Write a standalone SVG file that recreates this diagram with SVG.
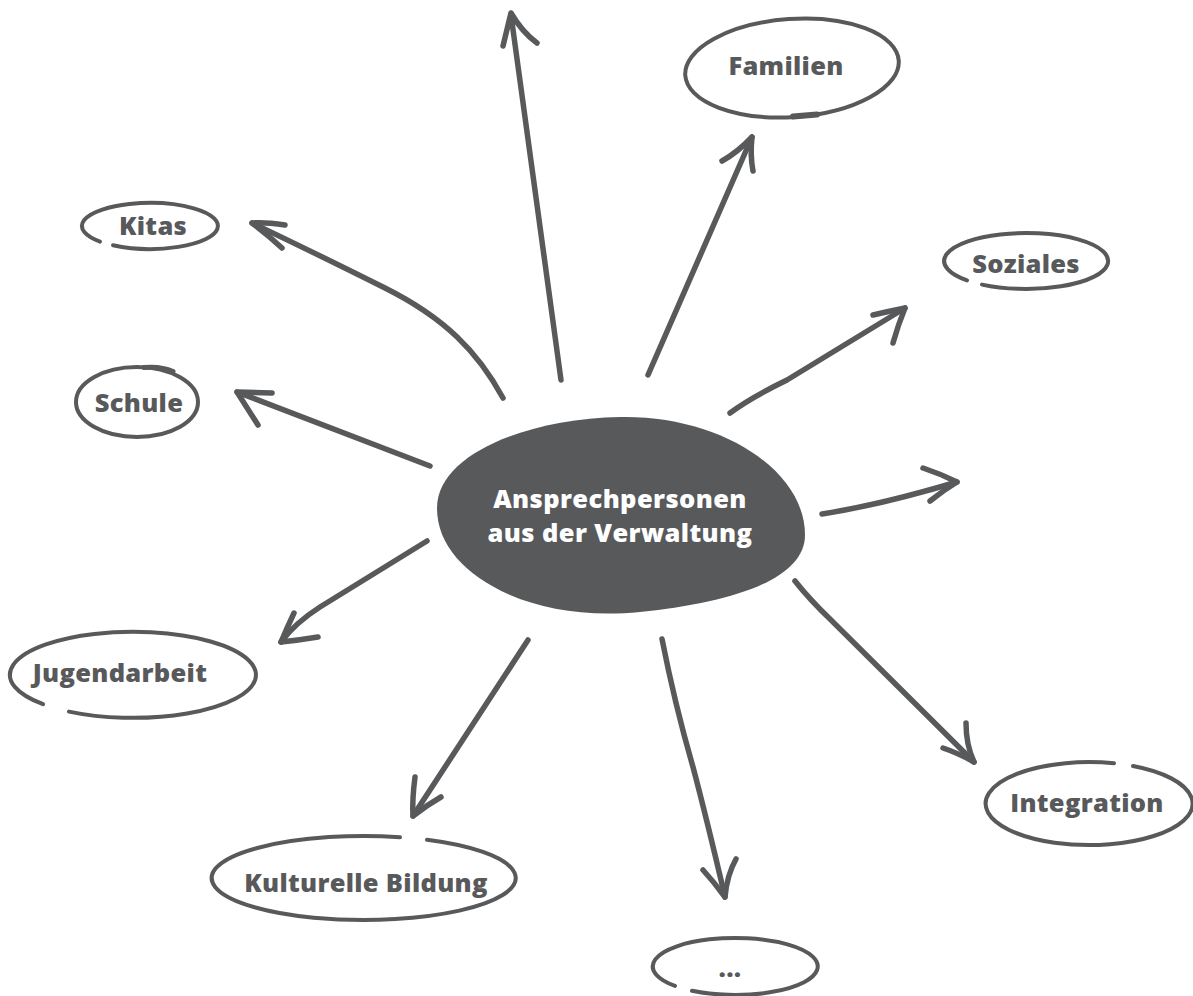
<svg xmlns="http://www.w3.org/2000/svg" width="1193" height="996" viewBox="0 0 1193 996">
<style>
.bg{fill:#ffffff}
.arr{fill:none;stroke:#58595b;stroke-width:5.5;stroke-linecap:round;stroke-linejoin:round}
.ring{fill:none;stroke:#58595b;stroke-width:4;stroke-linecap:round;stroke-linejoin:round}
.lbl{font-family:"Open Sans","Liberation Sans",sans-serif;font-weight:800;font-size:25.5px;letter-spacing:0.3px;fill:#58595b;text-anchor:middle}
.ctr{font-family:"Open Sans","Liberation Sans",sans-serif;font-weight:800;font-size:25.5px;letter-spacing:0.4px;fill:#ffffff;text-anchor:middle}
</style>
<rect class="bg" x="0" y="0" width="1193" height="996"/>
<g id="connectors">
  <g id="arrow-top"><path class="arr" d="M 561,380 L 511,15"/><path class="arr" d="M 503,46 L 511,13 Q 522,32 537,43"/></g>
  <g id="arrow-familien"><path class="arr" d="M 648,375 L 752,137"/><path class="arr" d="M 722,161 Q 738,152 752,137 Q 750,155 753,171"/></g>
  <g id="arrow-soziales"><path class="arr" d="M 730,413 Q 750,398 787,380 L 905,308"/><path class="arr" d="M 873,315 Q 890,311 905,308 Q 898,325 893,343"/></g>
  <g id="arrow-right"><path class="arr" d="M 822,514 Q 880,505 957,482"/><path class="arr" d="M 923,468 Q 941,474 957,482 Q 944,490 930,501"/></g>
  <g id="arrow-integration"><path class="arr" d="M 795,581 Q 810,600 831,620 L 974,762"/><path class="arr" d="M 966,723 Q 966,745 974,762 Q 958,753 943,748"/></g>
  <g id="arrow-dots"><path class="arr" d="M 662,639 Q 675,705 693,767 Q 707,820 725,897"/><path class="arr" d="M 703,870 Q 714,882 725,897 Q 727,875 736,859"/></g>
  <g id="arrow-kultur"><path class="arr" d="M 528,640 L 413,816"/><path class="arr" d="M 415,777 Q 412,800 413,816 Q 427,805 441,797"/></g>
  <g id="arrow-jugend"><path class="arr" d="M 427,541 L 320,607 Q 295,623 281,642"/><path class="arr" d="M 294,613 Q 287,628 281,642 Q 300,640 318,637"/></g>
  <g id="arrow-schule"><path class="arr" d="M 430,466 L 237,392"/><path class="arr" d="M 272,393 L 237,392 L 258,425"/></g>
  <g id="arrow-kitas"><path class="arr" d="M 503,398 C 478,352 445,318 385,288 C 333,262 292,242 252,223"/><path class="arr" d="M 285,225 Q 265,222 252,223 Q 268,235 282,248"/></g>
</g>
<g id="center">
  <path fill="#58595b" d="M 620,417 C 720,415 805,470 805,535 C 805,580 730,603 640,612 C 590,617 545,610 510,595 C 465,575 437,545 437,508 C 437,455 525,419 620,417 Z"/>
  <text class="ctr" x="620" y="508">Ansprechpersonen</text>
  <text class="ctr" x="620" y="542">aus der Verwaltung</text>
</g>
<g id="node-kitas">
  <path class="ring" d="M 113,245.3 A 68 23 0 1 0 100,241.6"/>
  <text class="lbl" x="153" y="235">Kitas</text>
</g>
<g id="node-schule">
  <ellipse class="ring" cx="137" cy="402" rx="61" ry="35"/>
  <path class="ring" d="M 144,367.5 Q 161,366 173,371.5" style="stroke-width:5"/>
  <text class="lbl" x="139" y="412">Schule</text>
</g>
<g id="node-familien">
  <ellipse class="ring" cx="792" cy="68" rx="107" ry="49" transform="rotate(-4 792 68)"/>
  <path class="ring" d="M 793,116.5 L 817,114.5" style="stroke-width:6"/>
  <text class="lbl" x="786" y="75">Familien</text>
</g>
<g id="node-soziales">
  <path class="ring" d="M 982,284.6 A 82 28 0 1 0 967,280.4"/>
  <text class="lbl" x="1026" y="273">Soziales</text>
</g>
<g id="node-jugendarbeit">
  <path class="ring" d="M 69,711.6 A 123 43 0 1 0 43,704.2"/>
  <text class="lbl" x="120" y="682">Jugendarbeit</text>
</g>
<g id="node-kultur">
  <path class="ring" d="M 400,837.2 A 152 42 0 1 0 427,839.8"/>
  <text class="lbl" x="366" y="892">Kulturelle Bildung</text>
</g>
<g id="node-dots">
  <path class="ring" d="M 692,990.7 A 82.5 28.5 0 1 0 675,985.9"/>
  <text class="lbl" x="730" y="977">...</text>
</g>
<g id="node-integration">
  <path class="ring" d="M 1114,763.3 A 103.5 41.5 0 1 0 1133,766"/>
  <text class="lbl" x="1087" y="812">Integration</text>
</g>
</svg>
